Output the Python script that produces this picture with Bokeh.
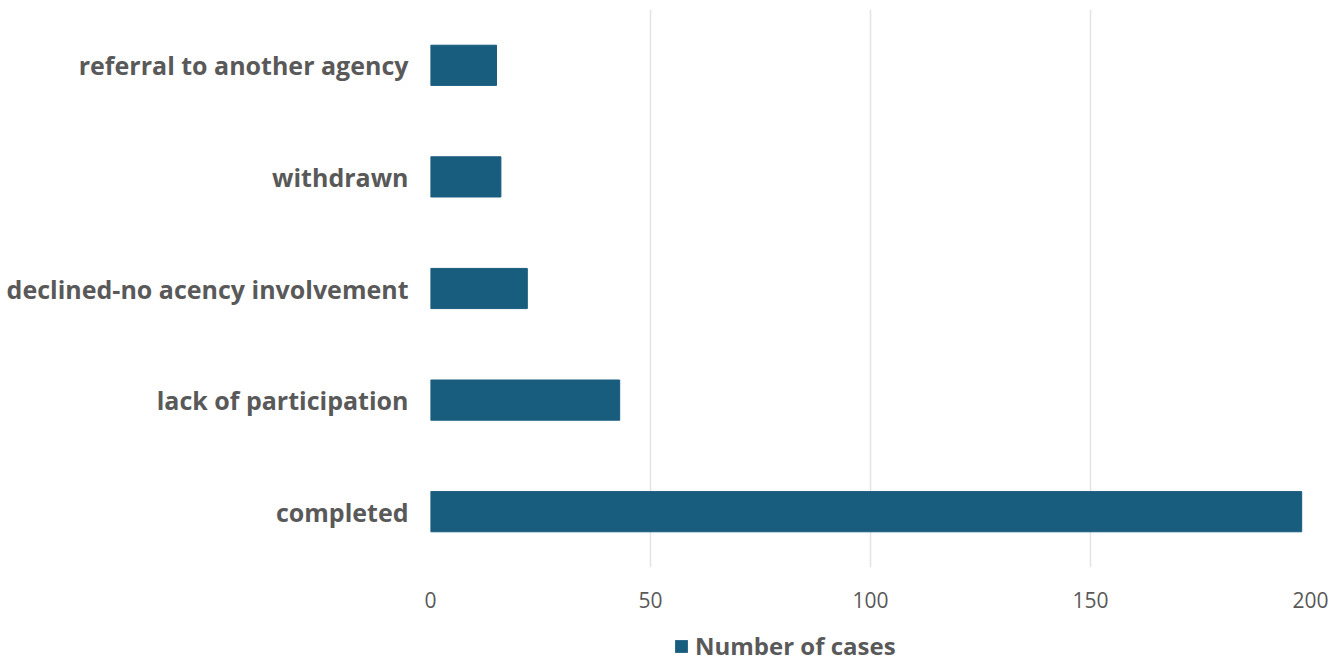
from bokeh.plotting import figure
from bokeh.models import ColumnDataSource, Legend, LegendItem, FixedTicker, Range1d
from bokeh.layouts import column
from bokeh.embed import file_html
from bokeh.resources import INLINE

categories = ["completed", "lack of participation", "declined-no acency involvement",
              "withdrawn", "referral to another agency"]
values = [198, 43, 22, 16, 15]
series_name = "Number of cases"
x_ticks = [0, 50, 100, 150, 200]
bar_color = "#185c7e"

source = ColumnDataSource(data=dict(cat=categories, val=values))

p = figure(width=1338, height=622, y_range=categories, x_range=Range1d(0, 200),
           output_backend="svg", toolbar_location=None,
           min_border_left=430, min_border_right=28, min_border_top=9, min_border_bottom=55)
p.outline_line_color = None

r = p.hbar(y="cat", right="val", left=0, height=0.36, source=source,
           fill_color=bar_color, line_color=bar_color)

p.xaxis.ticker = FixedTicker(ticks=x_ticks)
p.xaxis.axis_line_color = None
p.xaxis.major_tick_line_color = None
p.xaxis.minor_tick_line_color = None
p.xaxis.major_label_standoff = 18
p.xaxis.major_label_text_font = "Open Sans"
p.xaxis.major_label_text_font_size = "21px"
p.xaxis.major_label_text_color = "#595959"

p.yaxis.axis_line_color = None
p.yaxis.major_tick_line_color = None
p.yaxis.minor_tick_line_color = None
p.yaxis.major_label_standoff = 16
p.yaxis.major_label_text_font = "Open Sans"
p.yaxis.major_label_text_font_style = "bold"
p.yaxis.major_label_text_font_size = "25px"
p.yaxis.major_label_text_color = "#595959"

p.ygrid.grid_line_color = None
p.xgrid.grid_line_color = "#e3e3e3"
p.xgrid.grid_line_width = 1.5

# legend strip below the chart (its zero-height bars lie outside its x range)
p2 = figure(width=1338, height=40, output_backend="svg", toolbar_location=None,
            min_border=0, x_range=Range1d(-2, -1), y_range=categories)
p2.outline_line_color = None
p2.axis.visible = False
p2.grid.visible = False
r2 = p2.hbar(y="cat", right="val", left=0, height=0.0, source=source,
             fill_color=bar_color, line_color=None)

legend = Legend(items=[LegendItem(label=series_name, renderers=[r2])],
                orientation="horizontal", location=(243, 0),
                label_text_font="Open Sans", label_text_font_style="bold",
                label_text_font_size="24px", label_text_color="#595959",
                glyph_width=16, glyph_height=16, label_standoff=6,
                border_line_color=None, background_fill_alpha=0, padding=2, margin=0)
p2.add_layout(legend, "center")

layout = column(p, p2, spacing=0)
open("out.html", "w").write(file_html(layout, INLINE))
